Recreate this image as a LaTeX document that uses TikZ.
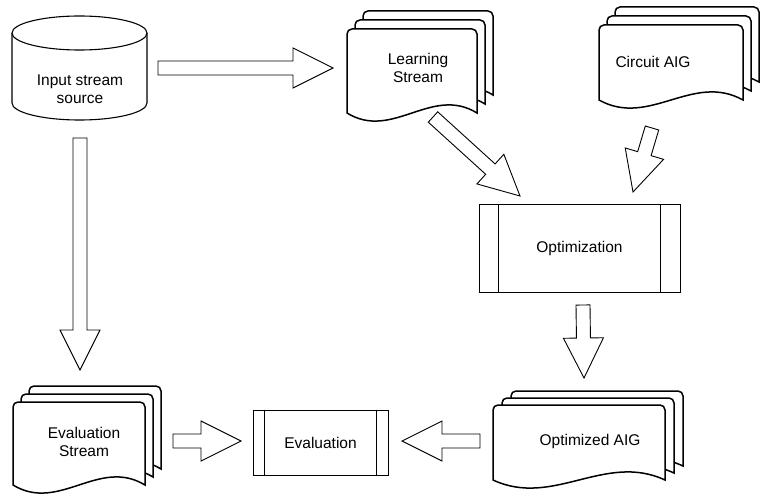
\documentclass[tikz,border=0pt]{standalone}
\usepackage{fontspec}
\setmainfont{Liberation Sans}
\usetikzlibrary{calc}
\usetikzlibrary{positioning}
\tikzset{doc/.style  = {draw, fill=white, line width=1.5pt},
         cyl/.style  = {draw, fill=white, line width=1.1pt},
         fat/.style  = {draw, fill=white, line width=0.9pt, line join=miter},
         proc/.style = {draw, line width=1pt, inner sep=0pt, lbl},
         lbl/.style  = {align=center, font=\fontsize{15.5}{18}\selectfont}}
\newcommand{\shaftw}{7pt}
\newcommand{\headw}{20pt}
\newcommand{\headl}{40pt}
% hollow block arrow from #1 to #2
\newcommand{\fatarrow}[2]{%
  \draw[fat] ($(#1)!\shaftw!90:(#2)$)
    -- ($(#2)!\headl!(#1)!\shaftw!-90:(#1)$)
    -- ($(#2)!\headl!(#1)!\headw!-90:(#1)$)
    -- (#2)
    -- ($(#2)!\headl!(#1)!\headw!90:(#1)$)
    -- ($(#2)!\headl!(#1)!\shaftw!90:(#1)$)
    -- ($(#1)!\shaftw!-90:(#2)$) -- cycle;}
% stack of three pages: left, top, width, height, dx, dy
\newcommand{\docstack}[6]{%
  \foreach \k in {2,1,0}
    \draw[doc, shift={({\k*#5},{-\k*#6})}]
      (#1,#2+#4) [rounded corners=5pt] -- (#1,#2) -- (#1+#3,#2) -- (#1+#3,#2+10)
      [sharp corners] -- (#1+#3,#2+#4)
      .. controls (#1+0.65*#3,#2+#4-28) and (#1+0.35*#3,#2+#4+28) .. (#1,#2+#4) -- cycle;}

\begin{document}
\begin{tikzpicture}[x=1pt, y=-1pt]
  \useasboundingbox (0,0) rectangle (760,497);

  % source cylinder
  \draw[cyl] (12,33) -- (12,103) arc[start angle=180, end angle=0, x radius=67.5, y radius=17] -- (147,33);
  \draw[cyl] (79.5,33) ellipse [x radius=67.5, y radius=17];

  \docstack{347}{29}{130}{84}{8}{9}
  \docstack{599}{25}{144}{75}{8}{9}
  \docstack{493}{405}{172}{75}{9}{7}
  \docstack{13}{402}{132}{83}{8}{8}

  \node[lbl] (src) at (80,89) {Input stream\\source};
  \node[lbl] (lrn) at (418,68) {Learning\\Stream};
  \node[lbl] (cir) at (653,62) {Circuit AIG};
  \node[lbl] (oaig) at (590,441) {Optimized AIG};
  \node[lbl] (evs) at (84,442) {Evaluation\\Stream};

  \node[proc, minimum width=201pt, minimum height=87pt] (opt) at (579.5,248.5) {Optimization};
  \draw[line width=1pt] ([xshift=20pt]opt.north west) -- ([xshift=20pt]opt.south west)
                        ([xshift=-20pt]opt.north east) -- ([xshift=-20pt]opt.south east);
  \node[proc, minimum width=135pt, minimum height=65pt] (ev) at (320.5,442.5) {Evaluation};
  \draw[line width=1pt] ([xshift=12pt]ev.north west) -- ([xshift=12pt]ev.south west)
                        ([xshift=-12pt]ev.north east) -- ([xshift=-12pt]ev.south east);

  % arrow ends
  \coordinate (src-s) at (80,138);
  \coordinate (evs-n) at (80,370);
  \coordinate (src-e) at (158,68);
  \coordinate (lrn-w) at (333,68);
  \coordinate (lrn-s) at (433,117);
  \coordinate (opt-nw) at (520,196);
  \coordinate (cir-s) at (652,128);
  \coordinate (opt-ne) at (633,192);
  \coordinate (opt-s) at (583,305);
  \coordinate (oaig-n) at (584,378);
  \coordinate (evs-e) at (173,441);
  \coordinate (ev-w) at (241,441);
  \coordinate (oaig-w) at (480,441);
  \coordinate (ev-e) at (402,441);

  \fatarrow{src-s}{evs-n}
  \fatarrow{src-e}{lrn-w}
  \fatarrow{lrn-s}{opt-nw}
  \fatarrow{cir-s}{opt-ne}
  \fatarrow{opt-s}{oaig-n}
  \fatarrow{evs-e}{ev-w}
  \fatarrow{oaig-w}{ev-e}
\end{tikzpicture}
\end{document}
